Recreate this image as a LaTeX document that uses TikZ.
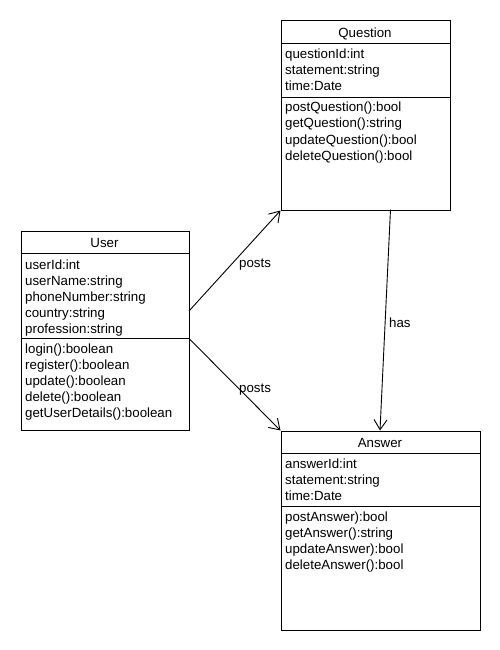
\documentclass[tikz,border=0pt]{standalone}
\usepackage{fontspec}
\setmainfont{Liberation Sans}
\usetikzlibrary{arrows.meta}
\begin{document}
\begin{tikzpicture}[x=1pt,y=-1pt,
  classbox/.style={draw, line width=1pt, anchor=north west, inner sep=0pt, fill=white},
  title/.style={anchor=base, inner sep=0pt, font=\fontsize{13.3}{15}\selectfont},
  member/.style={anchor=base west, inner sep=0pt, font=\fontsize{13.3}{15}\selectfont},
  rel/.style={line width=0.9pt, -{Straight Barb[length=10pt,width=13pt,line width=0.9pt]}},
  rellabel/.style={anchor=base west, inner sep=0pt, font=\fontsize{13.3}{15}\selectfont}]
\useasboundingbox[fill=white] (0,0) rectangle (500,650);

% ---- Question class ----
\node[classbox, minimum width=169pt, minimum height=189pt] (question) at (280.5,20.5) {};
\draw[line width=1pt] (280.5,43.5) -- (449.5,43.5);
\draw[line width=1pt] (280.5,97.5) -- (449.5,97.5);
\node[title] (qtitle) at (365,37.3) {Question};
\node[member] (qa1) at (285,58.3) {questionId:int};
\node[member] (qa2) at (285,74.3) {statement:string};
\node[member] (qa3) at (285,90.3) {time:Date};
\node[member] (qm1) at (285,112) {postQuestion():bool};
\node[member] (qm2) at (285,128) {getQuestion():string};
\node[member] (qm3) at (285,144) {updateQuestion():bool};
\node[member] (qm4) at (285,160) {deleteQuestion():bool};

% ---- User class ----
\node[classbox, minimum width=168pt, minimum height=199pt] (user) at (20.5,230.5) {};
\draw[line width=1pt] (20.5,253.5) -- (188.5,253.5);
\draw[line width=1pt] (20.5,338.5) -- (188.5,338.5);
\node[title] (utitle) at (104.5,247.3) {User};
\node[member] (ua1) at (25,269) {userId:int};
\node[member] (ua2) at (25,285) {userName:string};
\node[member] (ua3) at (25,301) {phoneNumber:string};
\node[member] (ua4) at (25,317) {country:string};
\node[member] (ua5) at (25,333) {profession:string};
\node[member] (um1) at (25,353) {login():boolean};
\node[member] (um2) at (25,369) {register():boolean};
\node[member] (um3) at (25,385) {update():boolean};
\node[member] (um4) at (25,401) {delete():boolean};
\node[member] (um5) at (25,417) {getUserDetails():boolean};

% ---- Answer class ----
\node[classbox, minimum width=199pt, minimum height=199pt] (answer) at (280.5,430.5) {};
\draw[line width=1pt] (280.5,453.5) -- (479.5,453.5);
\draw[line width=1pt] (280.5,506.5) -- (479.5,506.5);
\node[title] (atitle) at (380,447.3) {Answer};
\node[member] (aa1) at (285,468.3) {answerId:int};
\node[member] (aa2) at (285,484.3) {statement:string};
\node[member] (aa3) at (285,500.3) {time:Date};
\node[member] (am1) at (285,521.5) {postAnswer):bool};
\node[member] (am2) at (285,537.5) {getAnswer():string};
\node[member] (am3) at (285,553.5) {updateAnswer):bool};
\node[member] (am4) at (285,569.5) {deleteAnswer():bool};

% ---- Associations ----
\coordinate (uq) at (189,311);
\coordinate (ua) at (189,338.5);
\coordinate (qa) at (390.5,209.5);
\coordinate (aq) at (380,430.5);
\draw[rel] (uq) -- (question.south west);
\draw[rel] (ua) -- (answer.north west);
\draw[rel] (qa) -- (aq);
\node[rellabel] (l1) at (239,267) {posts};
\node[rellabel] (l2) at (239,392) {posts};
\node[rellabel] (l3) at (389,327) {has};
\end{tikzpicture}
\end{document}
